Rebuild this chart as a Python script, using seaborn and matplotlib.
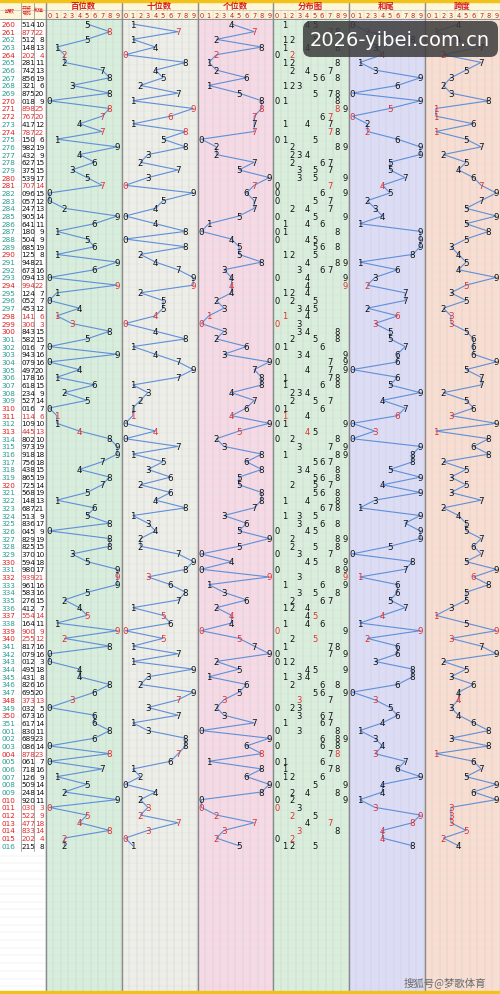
import matplotlib
matplotlib.use("Agg")
import matplotlib.pyplot as plt
import seaborn as sns
import numpy as np
from matplotlib.patches import Rectangle, FancyBboxPatch

sns.set_theme(style="white")
plt.rcParams['font.family'] = ['DejaVu Sans', 'Noto Sans CJK SC']

periods = ["260","261","262","263","264","265","266","267","268","269","270","271","272","273","274","275","276","277","278","279",
           "280","281","282","283","284","285","286","287","288","289","290","291","292","293","294","295","296","297","298","299",
           "300","301","302","303","304","305","306","307","308","309","310","311","312","313","314","315","316","317","318","319",
           "320","321","322","323","324","325","326","327","328","329","330","331","332","333","334","335","336","337","338","339",
           "340","341","342","343","344","345","346","347","348","349","350","351",
           "001","002","003","004","005","006","007","008","009","010","011","012","013","014","015","016"]
numbers = ["514","877","512","148","202","281","742","856","321","875","018","898","767","417","787","150","982","432","627","375",
           "539","707","096","057","247","905","641","180","504","685","125","948","673","094","994","124","052","453","141","300",
           "843","582","016","943","079","497","178","618","234","527","016","114","109","445","802","973","918","756","438","865",
           "725","568","148","687","513","836","045","829","825","370","594","980","939","961","583","276","412","554","164","900",
           "255","817","079","012","495","431","826","695","373","032","673","617",
           "830","689","086","878","061","718","126","509","248","920","030","522","477","833","202","215"]
panel_titles = ["百位数", "十位数", "个位数", "分布图", "和尾", "跨度"]
head_left = ["期数", "开奖\n号码", "和值"]

digits = np.array([[int(c) for c in n] for n in numbers])
sums = digits.sum(axis=1)
spans = digits.max(axis=1) - digits.min(axis=1)
group3 = np.array([len(set(n)) == 2 for n in numbers])
series = [digits[:, 0], digits[:, 1], digits[:, 2], None, sums % 10, spans]

W, H = 500, 995
fig = plt.figure(figsize=(5, 9.95), dpi=100)
ax = fig.add_axes([0, 0, 1, 1])
ax.set_xlim(0, W); ax.set_ylim(H, 0); ax.axis('off')

px0 = [45.5, 121.5, 197.5, 273, 348.5, 424.5]
pw = 75.5
bgs = ["#d6eedb", "#eeeee8", "#f6d9e4", "#d9efdc", "#dcdcf7", "#f9ddd0"]
cw = pw / 10
y0, rh = 25.0, 7.68
n = len(numbers)
ys = y0 + np.arange(n) * rh

ax.add_patch(Rectangle((0, 0), W, H, color="white", zorder=0))
ax.add_patch(Rectangle((0, 0), W, 19.5, color="#fdf6d8", zorder=0.5))
ax.add_patch(Rectangle((0, 0), W, 2.5, color="#f3c21a", zorder=3))
ax.add_patch(Rectangle((0, H - 3), W, 3, color="#f3c21a", zorder=3))
for x, c in zip(px0, bgs):
    ax.add_patch(Rectangle((x, 19.5), pw, H - 22.5, color=c, zorder=0.5))
    for k in range(11):
        ax.plot([x + k * cw] * 2, [11, H - 3], color="#c9cdd0", lw=0.35, zorder=1)
    ax.plot([x, x], [2, H - 3], color="#8a8a8a", lw=1.0, zorder=1.2)
for yy in np.arange(19.5, H - 3, rh):
    ax.plot([0, W], [yy, yy], color="#dde0e0", lw=0.25, zorder=0.8)
for xx in [20.5, 33.5]:
    ax.plot([xx, xx], [2, 852], color="#9a9a9a", lw=0.6, zorder=1)
ax.plot([0, W], [11, 11], color="#c0c0c0", lw=0.5, zorder=1)
ax.plot([0, W], [19.5, 19.5], color="#909090", lw=0.7, zorder=1)

# headers
for x, t in zip([10, 27, 39], head_left):
    ax.text(x, 10.5, t, color="#d22", fontsize=3.6, ha="center", va="center",
            family=['Noto Sans CJK SC'], linespacing=0.9, zorder=4)
for x, t in zip(px0, panel_titles):
    ax.text(x + pw / 2, 6.5, t, color="#d42020", fontsize=6, ha="center", va="center",
            family=['Noto Sans CJK SC'], fontweight="bold", zorder=4)
    for k in range(10):
        ax.text(x + (k + 0.5) * cw, 15.5, str(k), color="#c02020", fontsize=4.8,
                ha="center", va="center", zorder=4)

# left columns
for i in range(n):
    p = periods[i]
    red = group3[i]
    pc = "#e02020" if (red or p.endswith("0")) else "#2a9d8f"
    nc = "#e03030" if red else "#111111"
    ax.text(1, ys[i], p, color=pc, fontsize=5.2, va="center", ha="left", zorder=4)
    ax.text(21.5, ys[i], numbers[i], color=nc, fontsize=5.2, va="center", ha="left", zorder=4)
    ax.text(44, ys[i], str(sums[i]), color=nc, fontsize=5.2, va="center", ha="right", zorder=4)

# trend panels
for pi, (x, s) in enumerate(zip(px0, series)):
    if s is None:
        for i in range(n):
            for d in sorted(set(digits[i])):
                rep = (digits[i] == d).sum() > 1
                ax.text(x + (d + 0.5) * cw, ys[i], str(d), color="#e03030" if rep else "#111",
                        fontsize=6, ha="center", va="center", zorder=4)
        continue
    xs = x + (s + 0.5) * cw
    sns.lineplot(x=xs, y=ys, sort=False, ax=ax, color="#5f8fd8", lw=0.8, zorder=2, estimator=None)
    for i in range(n):
        ax.text(xs[i], ys[i], str(s[i]), color="#e03030" if group3[i] else "#111",
                fontsize=6.3, ha="center", va="center", zorder=4,
                bbox=dict(boxstyle="square,pad=0.05", fc=bgs[pi], ec="none", alpha=0.0))
ax.set_xlim(0, W); ax.set_ylim(H, 0)

# watermarks
ax.add_patch(FancyBboxPatch((303, 22), 195, 36, boxstyle="round,pad=0,rounding_size=8",
                            fc="#3c3c3c", ec="none", alpha=0.85, zorder=6))
ax.text(400, 41, "2026-yibei.com.cn", color="white", fontsize=14, ha="center", va="center", zorder=7)
ax.text(445, 983, "搜狐号@梦歌体育", color="#6a6a6a", fontsize=7.5, ha="center", va="center",
        family=['Noto Sans CJK SC'], zorder=7)

fig.savefig("out.png", dpi=100)
